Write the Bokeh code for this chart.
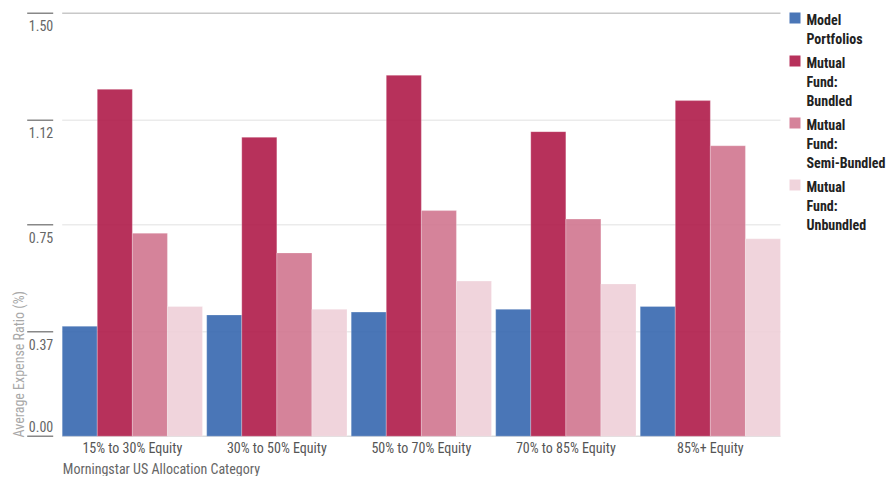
import math
from bokeh.plotting import figure
from bokeh.models import ColumnDataSource, FixedTicker, Range1d, Title
from bokeh.embed import file_html
from bokeh.resources import INLINE
from bokeh.core.properties import value
from bokeh.transform import dodge

# ---------------- data ----------------
categories = ["15% to 30% Equity", "30% to 50% Equity", "50% to 70% Equity",
              "70% to 85% Equity", "85%+ Equity"]
model_portfolios = [0.39, 0.43, 0.44, 0.45, 0.46]
mf_bundled = [1.23, 1.06, 1.28, 1.08, 1.19]
mf_semi_bundled = [0.72, 0.65, 0.80, 0.77, 1.03]
mf_unbundled = [0.46, 0.45, 0.55, 0.54, 0.70]
series_labels = ["Model\nPortfolios", "Mutual\nFund:\nBundled",
                 "Mutual\nFund:\nSemi-Bundled", "Mutual\nFund:\nUnbundled"]
y_ticks = [0.0, 0.37, 0.75, 1.12, 1.50]
y_tick_labels = ["0.00", "0.37", "0.75", "1.12", "1.50"]
y_title = "Average Expense Ratio (%)"
x_title = "Morningstar US Allocation Category"

colors = ["#3667af", "#af1b49", "#d0768f", "#eecfd8"]
FONT = "'Roboto Condensed', 'Liberation Sans Narrow', Roboto"

# ---------------- layout helpers (pixels -> data) ----------------
FRAME_W, FRAME_H = 894, 437
PX_X = 144.5            # pixels per group
G1_PAGE = 131.85        # screen x of first group centre
PX_Y = 282.0            # pixels per unit of y
BASE_PAGE = 435.7       # screen y of value 0


def px2x(px):
    return 1 + (px - G1_PAGE) / PX_X


def py2y(py):
    return (BASE_PAGE - py) / PX_Y


x_range = Range1d(px2x(0), px2x(FRAME_W))
y_range = Range1d(py2y(FRAME_H), py2y(0))

p = figure(frame_width=FRAME_W, frame_height=FRAME_H, x_range=x_range, y_range=y_range,
           output_backend="svg", toolbar_location=None, y_axis_location=None,
           min_border_left=0, min_border_right=0, min_border_top=0, min_border_bottom=0)
p.outline_line_color = None
p.xgrid.visible = False
p.ygrid.visible = False
p.background_fill_color = "white"

xs = list(range(1, len(categories) + 1))
src = ColumnDataSource(dict(x=xs, mp=model_portfolios, b=mf_bundled,
                            sb=mf_semi_bundled, ub=mf_unbundled))

group_w = 0.971
bar_w = group_w / 4
left_edge = xs[0] - group_w / 2
right_edge = xs[-1] + group_w / 2

# gridlines
grid_colors = ["#dddddd" if t == 0 else ("#c8c8c8" if t == max(y_ticks) else "#ebebeb") for t in y_ticks]
p.segment(x0=[left_edge] * len(y_ticks), x1=[right_edge] * len(y_ticks), y0=y_ticks, y1=y_ticks,
          line_color=grid_colors, line_width=1.5)

# bars
for i, (col, c) in enumerate(zip(["mp", "b", "sb", "ub"], colors)):
    off = (i - 1.5) * bar_w
    p.vbar(x=dodge("x", off), top=col, bottom=0, width=bar_w, source=src,
           fill_color=c, fill_alpha=0.9, line_color="white", line_alpha=0.25, line_width=1)

# y tick marks and labels (drawn left of the bar area)
p.segment(x0=[px2x(26.7)] * len(y_ticks), x1=[px2x(52.7)] * len(y_ticks), y0=y_ticks, y1=y_ticks,
          line_color="#888888", line_width=1.5)
tick_src = ColumnDataSource(dict(x=[px2x(52.7)] * len(y_ticks), y=y_ticks, t=y_tick_labels,
                                 yo=[-10 if t == 0 else 12.5 for t in y_ticks]))
p.text(x="x", y="y", text="t", y_offset="yo", source=tick_src, text_align="right",
       text_baseline="middle", text_font=value(FONT), text_font_size="14px", text_color="#666666")

# y title
p.text(x=[px2x(18.3)], y=[py2y(437)], text=[y_title], angle=math.pi / 2, text_align="left",
       text_baseline="middle", text_font=value(FONT), text_font_size="14px", text_color="#a8a8a8")

# legend (manual)
line_h = 19
gap = 5
first_line = 19
leg_sq_x, leg_sq_y, leg_sq_c = [], [], []
leg_tx, leg_ty, leg_tt = [], [], []
cur = first_line
for lab, c in zip(series_labels, colors):
    lines = lab.split("\n")
    leg_sq_x.append(px2x(794.5))
    leg_sq_y.append(py2y(cur - 1.5))
    leg_sq_c.append(c)
    for k, ln in enumerate(lines):
        leg_tx.append(px2x(806))
        leg_ty.append(py2y(cur + k * line_h))
        leg_tt.append(ln)
    cur += len(lines) * line_h + gap
p.scatter(x=leg_sq_x, y=leg_sq_y, marker="square", size=11, fill_color=leg_sq_c,
          fill_alpha=0.9, line_color=None)
p.text(x=leg_tx, y=leg_ty, text=leg_tt, text_align="left", text_baseline="middle",
       text_font=value(FONT), text_font_size="14px", text_font_style="bold", text_color="#222222")

# x axis
ax = p.xaxis[0]
ax.ticker = FixedTicker(ticks=xs)
ax.major_label_overrides = {x: c for x, c in zip(xs, categories)}
ax.axis_line_color = None
ax.major_tick_line_color = None
ax.minor_tick_line_color = None
ax.major_tick_out = 0
ax.major_tick_in = 0
ax.minor_tick_out = 0
ax.minor_tick_in = 0
ax.major_label_standoff = 2
ax.major_label_text_font = FONT
ax.major_label_text_font_size = "14px"
ax.major_label_text_color = "#555555"

p.add_layout(Title(text=x_title, align="left", offset=62.3, standoff=0,
                   text_font=FONT, text_font_size="14px", text_font_style="normal",
                   text_color="#666666"), "below")

open("out.html", "w").write(file_html(p, INLINE))
